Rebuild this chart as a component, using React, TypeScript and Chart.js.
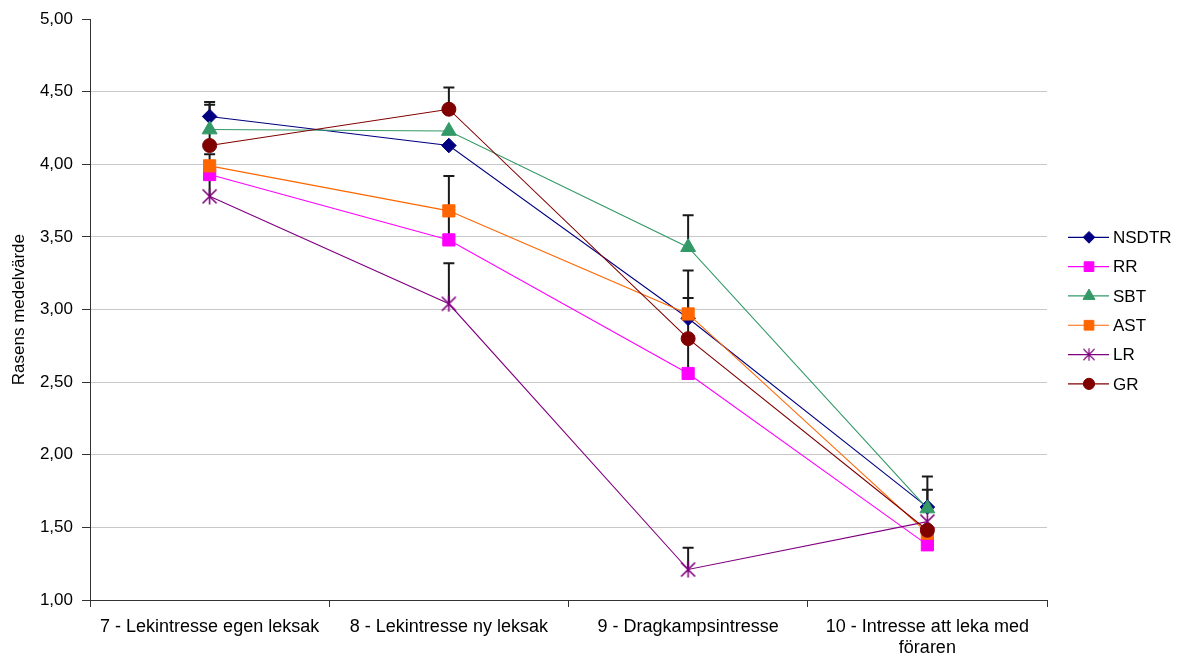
import React, { useEffect, useRef } from 'react';
import { Chart, registerables } from 'chart.js';

Chart.register(...registerables);

const categories: (string | string[])[] = [
  '7 - Lekintresse egen leksak',
  '8 - Lekintresse ny leksak',
  '9 - Dragkampsintresse',
  ['10 - Intresse att leka med', 'föraren'],
];

const seriesNames = ['NSDTR', 'RR', 'SBT', 'AST', 'LR', 'GR'];

const NSDTR = [4.33, 4.13, 2.94, 1.64];
const RR = [3.93, 3.48, 2.56, 1.38];
const SBT = [4.24, 4.23, 3.43, 1.63];
const AST = [3.99, 3.68, 2.97, 1.46];
const LR = [3.78, 3.04, 1.21, 1.54];
const GR = [4.13, 4.38, 2.8, 1.48];

// upper ends of the error bars (null = none drawn)
const NSDTR_ERR = [4.43, null, null, 1.85];
const RR_ERR = [null, 3.92, 3.08, null];
const SBT_ERR = [null, null, 3.65, 1.76];
const AST_ERR = [null, null, 3.27, null];
const LR_ERR = [4.07, 3.32, 1.36, null];
const GR_ERR = [4.41, 4.53, null, null];

const Y_MIN = 1;
const Y_MAX = 5;
const Y_STEP = 0.5;

const FONT = "'Liberation Sans', Arial, sans-serif";

function makeStar(color: string, size: number): HTMLCanvasElement {
  const c = document.createElement('canvas');
  c.width = size;
  c.height = size;
  const g = c.getContext('2d')!;
  g.strokeStyle = color;
  g.lineWidth = 1.6;
  const m = 1.5;
  g.beginPath();
  g.moveTo(m, m);
  g.lineTo(size - m, size - m);
  g.moveTo(size - m, m);
  g.lineTo(m, size - m);
  g.moveTo(size / 2, 0.5);
  g.lineTo(size / 2, size - 0.5);
  g.stroke();
  return c;
}

function drawMarker(
  ctx: CanvasRenderingContext2D,
  style: any,
  x: number,
  y: number,
  r: number,
  color: string,
  scale: number
) {
  ctx.save();
  ctx.fillStyle = color;
  ctx.strokeStyle = color;
  ctx.lineWidth = 1;
  if (style instanceof HTMLCanvasElement) {
    const w = style.width * scale;
    const h = style.height * scale;
    ctx.drawImage(style, x - w / 2, y - h / 2, w, h);
    ctx.restore();
    return;
  }
  ctx.beginPath();
  if (style === 'circle') {
    ctx.arc(x, y, r, 0, Math.PI * 2);
  } else if (style === 'rect') {
    const s = r * Math.SQRT1_2;
    ctx.rect(x - s, y - s, 2 * s, 2 * s);
  } else if (style === 'rectRot') {
    ctx.moveTo(x - r, y);
    ctx.lineTo(x, y - r);
    ctx.lineTo(x + r, y);
    ctx.lineTo(x, y + r);
    ctx.closePath();
  } else if (style === 'triangle') {
    ctx.moveTo(x, y - r);
    ctx.lineTo(x + r * 0.866, y + r / 2);
    ctx.lineTo(x - r * 0.866, y + r / 2);
    ctx.closePath();
  }
  ctx.fill();
  ctx.stroke();
  ctx.restore();
}

export default function App() {
  const ref = useRef<HTMLCanvasElement>(null);

  useEffect(() => {
    document.body.style.margin = '0';
    Chart.defaults.font.family = FONT;

    const star = makeStar('#800080', 17);
    const values = [NSDTR, RR, SBT, AST, LR, GR];
    const errs = [NSDTR_ERR, RR_ERR, SBT_ERR, AST_ERR, LR_ERR, GR_ERR];
    const colors = ['#000080', '#FF00FF', '#339966', '#FF6600', '#800080', '#800000'];
    const styles: any[] = ['rectRot', 'rect', 'triangle', 'rect', star, 'circle'];
    const radii = [7.3, 8.6, 8.6, 8.6, 8, 7];

    const errorBars = {
      id: 'errorBars',
      beforeDatasetsDraw(chart: any) {
        const ctx = chart.ctx;
        const xs = chart.scales.x;
        const ys = chart.scales.y;
        ctx.save();
        ctx.strokeStyle = '#1a1a1a';
        ctx.lineWidth = 2;
        errs.forEach((e, i) => {
          e.forEach((top, j) => {
            if (top == null) return;
            const x = xs.getPixelForValue(j);
            const y0 = ys.getPixelForValue(values[i][j]);
            const y1 = ys.getPixelForValue(top);
            ctx.beginPath();
            ctx.moveTo(x, y0);
            ctx.lineTo(x, y1);
            ctx.moveTo(x - 5.5, y1);
            ctx.lineTo(x + 5.5, y1);
            ctx.stroke();
          });
        });
        ctx.restore();
      },
    };

    const sideLegend = {
      id: 'sideLegend',
      afterDraw(chart: any) {
        const ctx = chart.ctx;
        const area = chart.chartArea;
        const cy = (area.top + area.bottom) / 2 + 1;
        const gap = 29.3;
        const x0 = area.right + 21;
        ctx.save();
        seriesNames.forEach((name, i) => {
          const y = cy + (i - 2.5) * gap;
          ctx.strokeStyle = colors[i];
          ctx.lineWidth = 1.2;
          ctx.beginPath();
          ctx.moveTo(x0, y);
          ctx.lineTo(x0 + 41, y);
          ctx.stroke();
          drawMarker(ctx, styles[i], x0 + 21, y, radii[i] * 0.8, colors[i], 0.8);
          ctx.fillStyle = '#000';
          ctx.font = `17px ${FONT}`;
          ctx.textAlign = 'left';
          ctx.textBaseline = 'middle';
          ctx.fillText(name, x0 + 45, y + 1);
        });
        ctx.restore();
      },
    };

    const chart = new Chart(ref.current!, {
      type: 'line',
      data: {
        labels: categories as any,
        datasets: seriesNames.map((name, i) => ({
          label: name,
          data: values[i],
          borderColor: colors[i],
          backgroundColor: colors[i],
          pointBackgroundColor: colors[i],
          pointBorderColor: colors[i],
          pointBorderWidth: 1,
          pointStyle: styles[i],
          pointRadius: radii[i],
          borderWidth: 1.1,
          tension: 0,
          fill: false,
          order: seriesNames.length - i,
        })),
      },
      options: {
        animation: false,
        responsive: true,
        maintainAspectRatio: false,
        events: [],
        layout: { padding: { left: 0, right: 136, top: 18, bottom: 0 } },
        plugins: {
          legend: { display: false },
          tooltip: { enabled: false },
        },
        scales: {
          x: {
            type: 'category',
            offset: true,
            afterFit(scale: any) {
              scale.height = 59;
            },
            grid: {
              offset: true,
              drawOnChartArea: false,
              drawTicks: true,
              tickLength: 7,
              tickColor: '#333',
            },
            border: { display: true, color: '#333', width: 1 },
            ticks: {
              color: '#000',
              font: { size: 18, family: FONT, lineHeight: 1.2 },
              padding: 9,
              maxRotation: 0,
              autoSkip: false,
            },
          },
          y: {
            type: 'linear',
            min: Y_MIN,
            max: Y_MAX,
            afterFit(scale: any) {
              scale.width = 90;
            },
            grid: {
              color: (c: any) =>
                c.tick && c.tick.value === Y_MAX ? 'rgba(0,0,0,0)' : '#c8c8c8',
              tickColor: '#333',
              tickLength: 8,
              drawTicks: true,
            },
            border: { display: true, color: '#333', width: 1 },
            ticks: {
              stepSize: Y_STEP,
              color: '#000',
              font: { size: 17, family: FONT },
              padding: 9,
              callback: (v: any) => Number(v).toFixed(2).replace('.', ','),
            },
            title: {
              display: true,
              text: 'Rasens medelvärde',
              color: '#000',
              font: { size: 17, family: FONT },
              padding: { top: 9, bottom: 0 },
            },
          },
        },
      },
      plugins: [errorBars, sideLegend],
    });

    return () => chart.destroy();
  }, []);

  return (
    <div style={{ width: 1183, height: 659, position: 'relative' }}>
      <canvas ref={ref} />
    </div>
  );
}
